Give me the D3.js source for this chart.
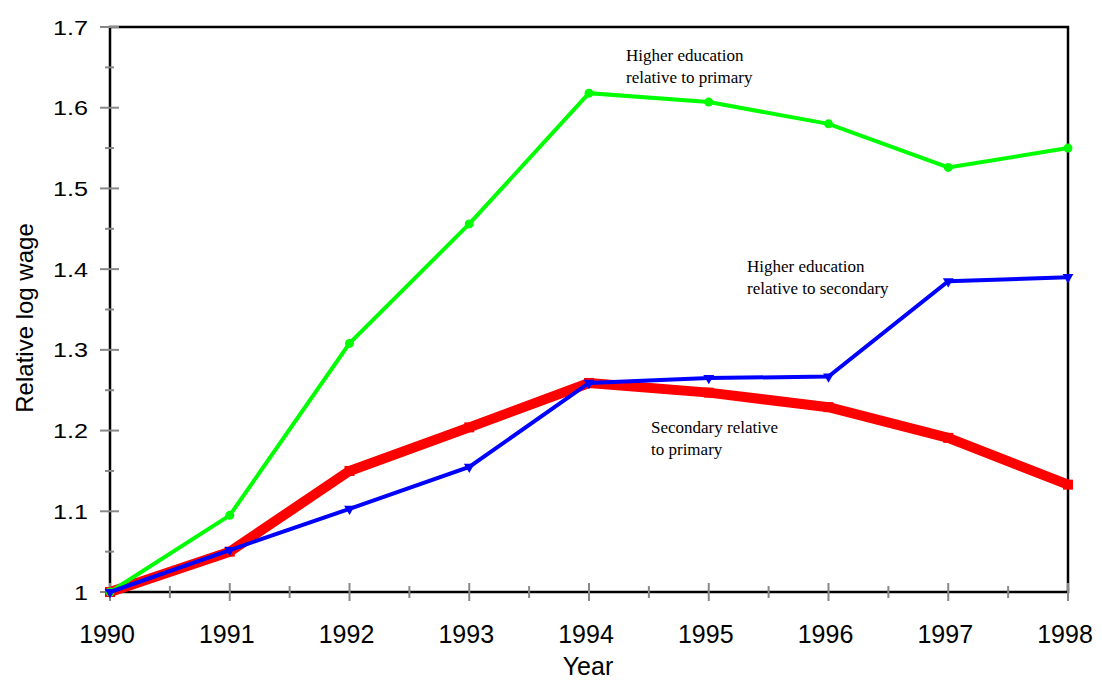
<!DOCTYPE html>
<html>
<head>
<meta charset="utf-8">
<script src="https://cdn.jsdelivr.net/npm/d3@7"></script>
<style>
  body { margin: 0; background: #fff; }
  svg { display: block; }
  .lbl { font-family: Arial, "Liberation Sans", sans-serif; fill: #000; }
  .note { font-family: "Liberation Serif", "Times New Roman", serif; font-size: 17px; fill: #000; }
</style>
</head>
<body>
<svg id="chart" width="1102" height="688"></svg>
<script>
// data
const years = [1990, 1991, 1992, 1993, 1994, 1995, 1996, 1997, 1998];
const higherVsPrimary = [1.0, 1.095, 1.308, 1.456, 1.618, 1.607, 1.580, 1.526, 1.550];
const higherVsSecondary = [1.0, 1.052, 1.103, 1.155, 1.259, 1.265, 1.267, 1.385, 1.390];
const secondaryVsPrimary = [1.0, 1.050, 1.150, 1.204, 1.259, 1.247, 1.229, 1.191, 1.133];
const yTicks = [1, 1.1, 1.2, 1.3, 1.4, 1.5, 1.6, 1.7];

const svg = d3.select('#chart');
const pLeft = 110, pRight = 1068, pTop = 27, pBottom = 592;

const x = d3.scaleLinear().domain([1990, 1998]).range([pLeft, pRight]);
const y = d3.scaleLinear().domain([1, 1.7]).range([pBottom, pTop]);

// frame
svg.append('rect')
    .attr('x', pLeft).attr('y', pTop)
    .attr('width', pRight - pLeft).attr('height', pBottom - pTop)
    .attr('fill', 'none').attr('stroke', '#000').attr('stroke-width', 2.5);

// ticks (gray, crossing the axis)
const minorX = d3.range(1990, 1998, 1).map(d => d + 0.5);
const minorY = d3.range(0, 7).map(i => 1.05 + i * 0.1);

const tg = svg.append('g').attr('stroke', '#888').attr('stroke-width', 2);
tg.selectAll('.xmaj').data(years).join('line')
    .attr('class', 'xmaj')
    .attr('x1', d => x(d)).attr('x2', d => x(d))
    .attr('y1', pBottom - 9).attr('y2', pBottom + 9);
tg.selectAll('.xmin').data(minorX).join('line')
    .attr('class', 'xmin')
    .attr('x1', d => x(d)).attr('x2', d => x(d))
    .attr('y1', pBottom - 6).attr('y2', pBottom + 6);
tg.selectAll('.ymaj').data(yTicks).join('line')
    .attr('class', 'ymaj')
    .attr('x1', pLeft - 10).attr('x2', pLeft + 9)
    .attr('y1', d => y(d)).attr('y2', d => y(d));
tg.selectAll('.ymin').data(minorY).join('line')
    .attr('class', 'ymin')
    .attr('x1', pLeft - 5).attr('x2', pLeft + 4)
    .attr('y1', d => y(d)).attr('y2', d => y(d));

// tick labels
svg.selectAll('.xl').data(years).join('text')
    .attr('class', 'lbl xl')
    .style('font-size', '25px')
    .attr('x', d => x(d) - 3).attr('y', 643)
    .attr('text-anchor', 'middle')
    .text(d => d);
// y labels look a little wider than tall in the source
svg.selectAll('.yl').data(yTicks).join('text')
    .attr('class', 'lbl yl')
    .style('font-size', '21px')
    .attr('transform', d => `translate(88,${y(d) + 7.5}) scale(1.2,1)`)
    .attr('text-anchor', 'end')
    .text(d => d3.format('~g')(d));

// axis titles
svg.append('text').attr('class', 'lbl')
    .style('font-size', '25px')
    .attr('x', 588).attr('y', 675)
    .attr('text-anchor', 'middle').text('Year');
svg.append('text').attr('class', 'lbl')
    .style('font-size', '24px')
    .attr('transform', `translate(33,318) rotate(-90)`)
    .attr('text-anchor', 'middle').text('Relative log wage');

const line = d3.line().x((d, i) => x(years[i])).y(d => y(d));

// secondary relative to primary (thick red)
svg.append('path').datum(secondaryVsPrimary)
    .attr('d', line).attr('fill', 'none')
    .attr('stroke', '#ff0000').attr('stroke-width', 10).attr('stroke-linejoin', 'round');
svg.selectAll('.rm').data(secondaryVsPrimary).join('rect')
    .attr('class', 'rm')
    .attr('x', (d, i) => x(years[i]) - 5).attr('y', d => y(d) - 5)
    .attr('width', 10).attr('height', 10).attr('fill', '#ff0000');

// higher relative to primary (green)
svg.append('path').datum(higherVsPrimary)
    .attr('d', line).attr('fill', 'none')
    .attr('stroke', '#00ff00').attr('stroke-width', 4);
svg.selectAll('.gm').data(higherVsPrimary).join('circle')
    .attr('class', 'gm')
    .attr('cx', (d, i) => x(years[i])).attr('cy', d => y(d))
    .attr('r', 4.5).attr('fill', '#00ff00');

// higher relative to secondary (blue)
svg.append('path').datum(higherVsSecondary)
    .attr('d', line).attr('fill', 'none')
    .attr('stroke', '#0000ff').attr('stroke-width', 4);
const tri = d3.symbol().type(d3.symbolTriangle).size(50);
svg.selectAll('.bm').data(higherVsSecondary).join('path')
    .attr('class', 'bm')
    .attr('d', tri)
    .attr('transform', (d, i) => `translate(${x(years[i])},${y(d)}) rotate(180)`)
    .attr('fill', '#0000ff');

// annotations
const notes = [
    {x: 626, y: 61, lines: ['Higher education', 'relative to primary']},
    {x: 747, y: 272, lines: ['Higher education', 'relative to secondary']},
    {x: 651, y: 433, lines: ['Secondary relative', 'to primary']}
];
notes.forEach(n => {
    const t = svg.append('text').attr('class', 'note');
    n.lines.forEach((s, i) => {
        t.append('tspan').attr('x', n.x).attr('y', n.y + i * 22).text(s);
    });
});
</script>
</body>
</html>
